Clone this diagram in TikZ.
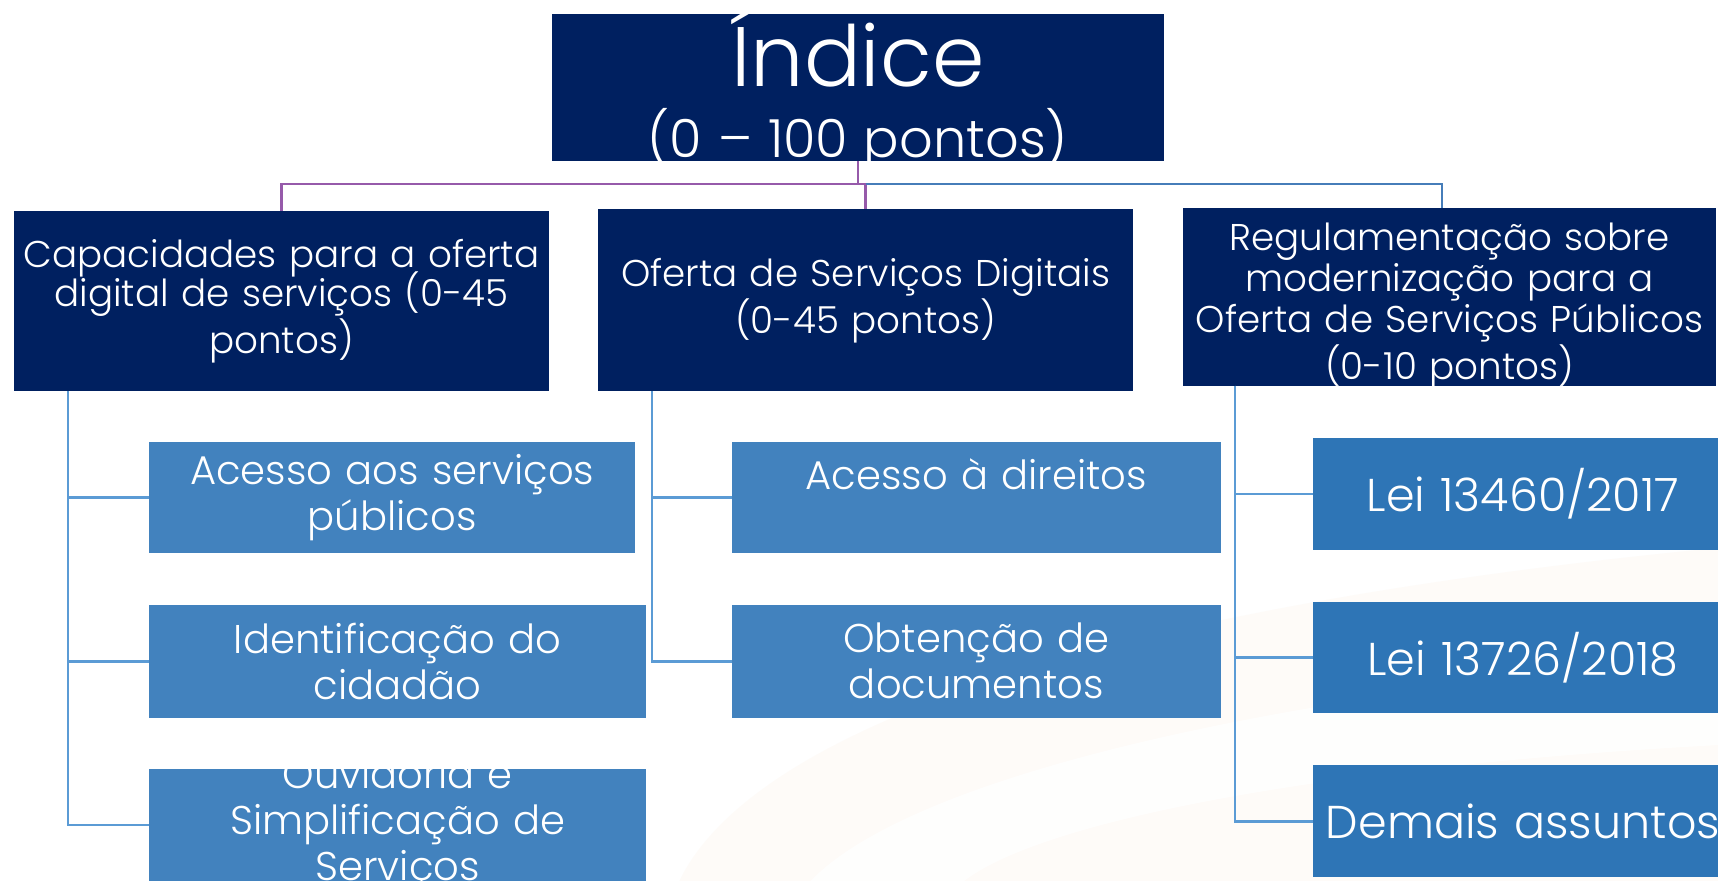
\documentclass[tikz,border=0pt]{standalone}
\usepackage{fontspec}
\setmainfont{Poppins}[UprightFont=* Light]
\usetikzlibrary{calc}
\definecolor{navy}{RGB}{0,32,96}
\definecolor{midblue}{RGB}{66,130,190}
\definecolor{lawblue}{RGB}{46,117,182}
\definecolor{connblue}{RGB}{91,155,213}
\definecolor{purpl}{RGB}{150,90,170}
\definecolor{topblue}{RGB}{70,125,185}
\definecolor{swoosh}{RGB}{245,170,110}
\newcommand\tightlines{\lineskiplimit=-50pt\relax}
\begin{document}
\begin{tikzpicture}[x=0.5pt,y=-0.5pt,
  boxbase/.style={inner sep=0pt, outer sep=0pt, align=center, text=white},
  topbox/.style={boxbase, fill=navy, minimum width=279pt, minimum height=67pt},
  toptext/.style={inner sep=0pt, outer sep=0pt, align=center, text=white, text width=279pt},
  catbox/.style={boxbase, fill=navy, minimum height=82pt, text width=244pt,
     font=\fontsize{17}{17.6}\selectfont},
  cattext/.style={inner sep=0pt, outer sep=0pt, align=center, text=white, text width=243pt,
     font=\fontsize{17}{18.8}\selectfont},
  itembox/.style={boxbase, fill=midblue, minimum height=51pt,
     font=\fontsize{18.3}{21}\selectfont},
  lawbox/.style={boxbase, fill=lawblue, minimum height=51pt, text width=192pt,
     font=\fontsize{21}{23}\selectfont},
  itemtext/.style={inner sep=0pt, outer sep=0pt, align=center, text=white,
     font=\fontsize{18.3}{21}\selectfont},
  purpline/.style={draw=purpl, line width=1.2pt},
  topline/.style={draw=topblue, line width=1.2pt},
  conn/.style={draw=connblue, line width=1.2pt}]
\useasboundingbox (0,0) rectangle (1568,804);
\fill[white] (0,0) rectangle (1568,804);
% faint background swoosh
\fill[swoosh, opacity=0.045] (620,804) .. controls (680,680) and (950,560) .. (1568,500) -- (1568,804) -- cycle;
\fill[white, opacity=0.8] (740,804) .. controls (820,720) and (1100,640) .. (1568,600) -- (1568,680) .. controls (1200,700) and (950,750) .. (880,804) -- cycle;

% top
\node[topbox] (T) at (783,80) {};
\node[toptext] (Tt) at (783,82.5) {\tightlines{\fontsize{38.5}{40}\selectfont Índice}\\[8.5pt]{\fontsize{24}{30}\selectfont\spaceskip=0.3em\relax (0 – 100 pontos)}};

% level 2
\node[catbox, minimum height=82pt] (A) at (257,275) {\tightlines Capacidades para a oferta\\digital de serviços (0-45\\pontos)};
\node[catbox, minimum height=83pt] (B) at (790,274) {\tightlines Oferta de Serviços Digitais\\(0-45 pontos)};
\node[catbox, minimum height=81pt, text width=243pt] (C) at (1323,271) {};
\node[cattext] (Ct) at ($(C.center)+(0,8)$) {\tightlines Regulamentação sobre\\modernização para a\\Oferta de Serviços Públicos\\(0-10 pontos)};

% level 3 left
\node[itembox, text width=222pt] (A1) at (358,454) {\tightlines Acesso aos serviços\\públicos};
\node[itembox, text width=227pt, minimum height=51.5pt] (A2) at (363,603.5) {\tightlines Identificação do\\cidadão};
\node[itembox, text width=227pt, minimum height=51pt] (A3) at (363,753) {};
\node[itemtext, text width=227pt] (A3t) at (A3.center) {\tightlines Ouvidoria e\\Simplificação de\\Serviços};

% level 3 middle
\node[itembox, text width=223pt] (B1) at (891,454) {\tightlines Acesso à direitos\\\mbox{}};
\node[itembox, text width=223pt, minimum height=51.5pt] (B2) at (891,603.5) {\tightlines Obtenção de\\documentos};

% level 3 right
\node[lawbox] (C1) at (1390,451) {Lei 13460/2017};
\node[lawbox] (C2) at (1390,600) {Lei 13726/2018};
\node[lawbox] (C3) at (1390,749.5) {Demais assuntos};

% top connectors
\coordinate (bus) at (783,168);
\draw[purpline] (T.south) -- (bus) -| (A.north);
\draw[purpline] (bus) -| (B.north);
\draw[topline] (B.north |- bus) -| ($(C.north)+(-7,0)$);

% level 2 -> 3
\coordinate (As) at ($(A.south west)+(49,0)$);
\draw[conn] (As) |- (A1.west);
\draw[conn] (As) |- (A2.west);
\draw[conn] (As) |- (A3.west);
\coordinate (Bs) at ($(B.south west)+(49,0)$);
\draw[conn] (Bs) |- (B1.west);
\draw[conn] (Bs) |- (B2.west);
\coordinate (Cs) at ($(C.south west)+(47,0)$);
\draw[conn] (Cs) |- (C1.west);
\draw[conn] (Cs) |- (C2.west);
\draw[conn] (Cs) |- (C3.west);
\end{tikzpicture}
\end{document}
